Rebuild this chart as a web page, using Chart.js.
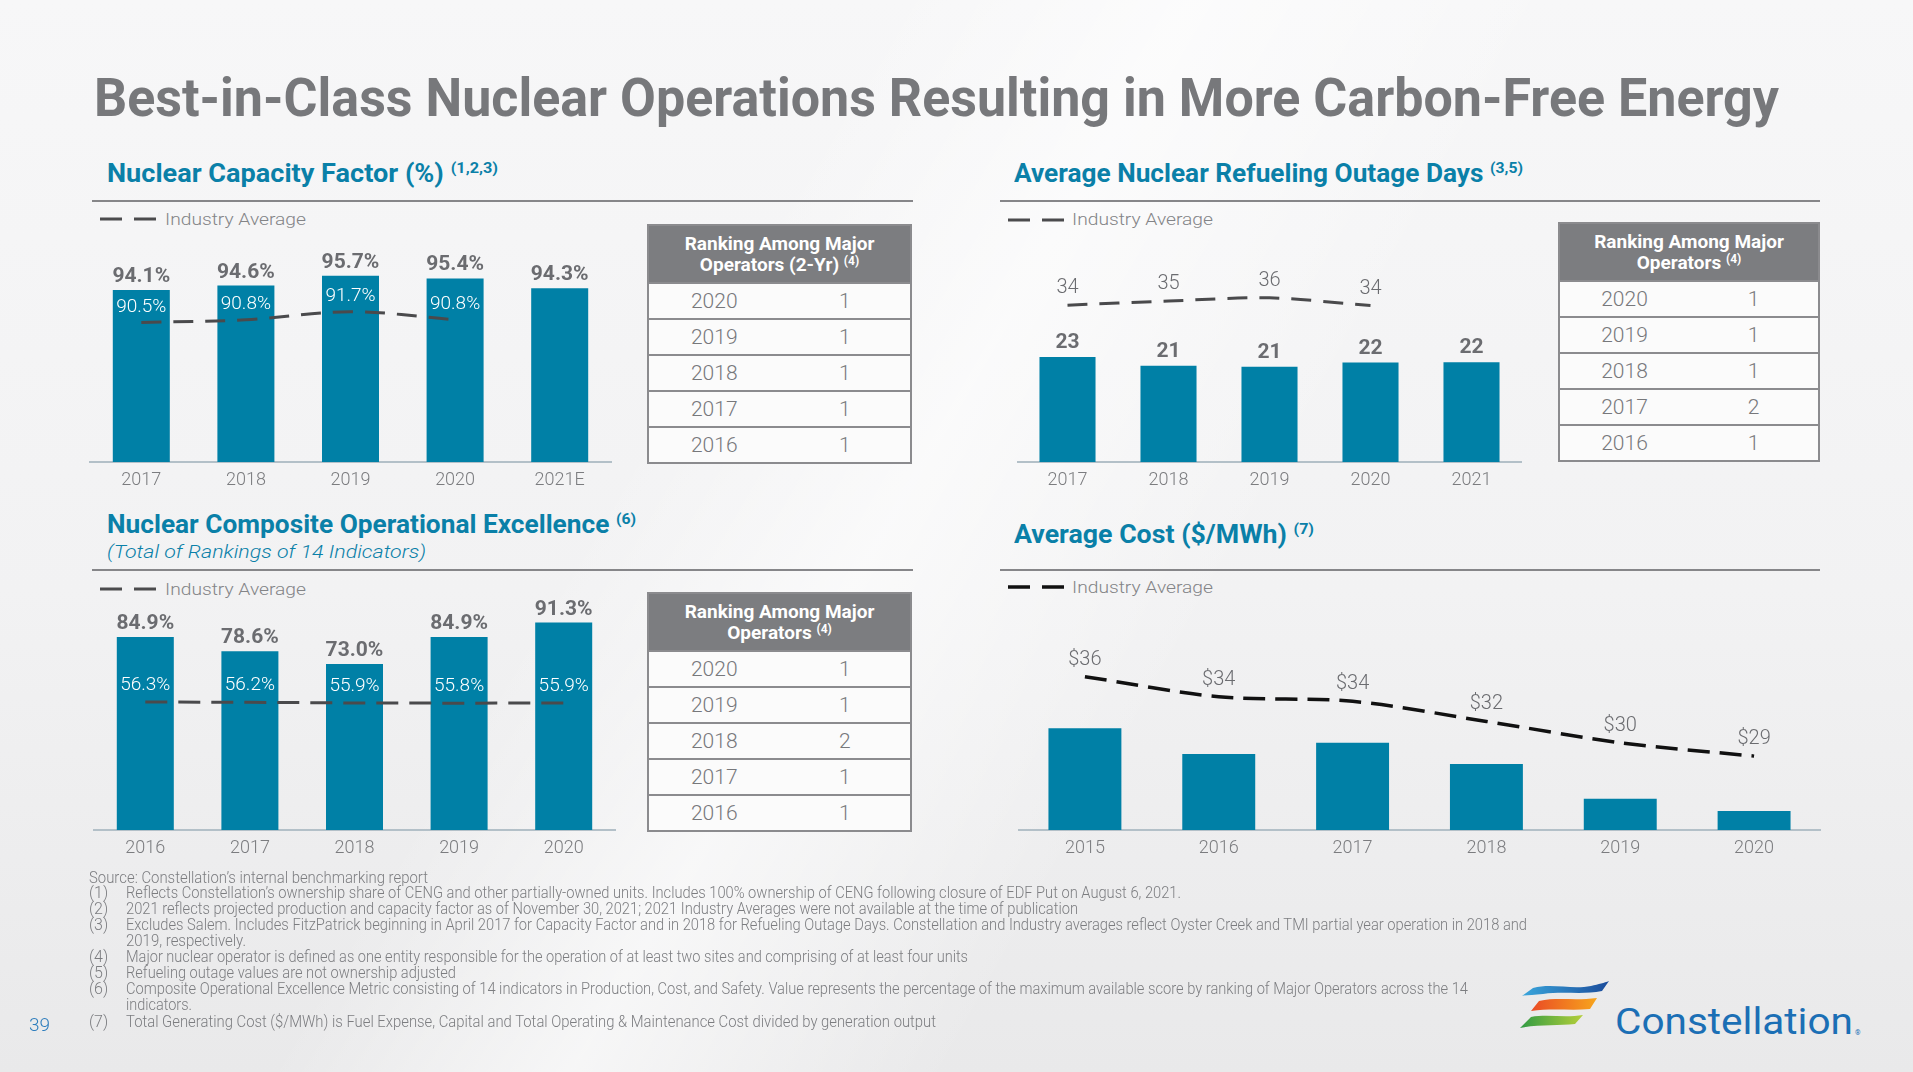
<!DOCTYPE html>
<html>
<head>
<meta charset="utf-8">
<title>Best-in-Class Nuclear Operations</title>
<script src="https://cdn.jsdelivr.net/npm/chart.js@4.4.1/dist/chart.umd.min.js"></script>
<style>
html, body { margin: 0; padding: 0; }
body {
    width: 1913px; height: 1072px; position: relative; overflow: hidden;
    font-family: Roboto, "Noto Sans", sans-serif;
    background:
        linear-gradient(120deg, rgba(255,255,255,0) 35%, rgba(255,255,255,0.6) 47%, rgba(255,255,255,0) 62%),
        linear-gradient(180deg, #f7f7f8 0%, #f2f2f3 55%, #e9e9ea 100%);
}
.t { position: absolute; white-space: nowrap; line-height: 1; transform-origin: 0 0; }
.title { left: 94px; top: 71px; font-size: 54px; font-weight: 700; color: #77787b; }
.sub { font-size: 25px; font-weight: 700; color: #0a80a8; }
.sub sup { font-size: 15px; vertical-align: 9px; line-height: 0; }
.subi { font-size: 19px; font-weight: 300; font-style: italic; color: #0a80a8; }
.rule { position: absolute; height: 2px; background: #868689; }
.lgt { font-size: 17px; font-weight: 300; color: #838487; }
svg.lg { position: absolute; }
canvas { position: absolute; }
.rk { position: absolute; box-sizing: border-box; border: 2px solid #8b8b8e; background: #fbfbfb; }
.rk .hd { height: 56px; background: #7c7d80; color: #fff; font-weight: 700; font-size: 19px; line-height: 21px;
          text-align: center; display: flex; flex-direction: column; justify-content: center; }
.rk .hd sup { font-size: 12px; vertical-align: 6px; line-height: 0; }
.rk .row { height: 34px; border-top: 2px solid #8b8b8e; display: flex; align-items: center;
           font-size: 21px; font-weight: 300; color: #77787b; }
.rk .row span { flex: 1; text-align: center; }
.fn { font-size: 16px; font-weight: 300; color: #7c7d80; }
.pg { left: 29px; top: 1015px; font-size: 19px; font-weight: 300; color: #2d7dbd; }
.logo { left: 1615px; top: 1004px; font-size: 36px; font-weight: 400; color: #1b6fb5; }
</style>
</head>
<body>

<div class="t title" data-w="1685">Best-in-Class Nuclear Operations Resulting in More Carbon-Free Energy</div>

<div class="t sub" style="left:107px;top:161px" data-w="391">Nuclear Capacity Factor (%) <sup>(1,2,3)</sup></div>
<div class="t sub" style="left:1014px;top:161px" data-w="509">Average Nuclear Refueling Outage Days <sup>(3,5)</sup></div>
<div class="t sub" style="left:107px;top:512px" data-w="529">Nuclear Composite Operational Excellence <sup>(6)</sup></div>
<div class="t subi" style="left:107px;top:542px" data-w="319">(Total of Rankings of 14 Indicators)</div>
<div class="t sub" style="left:1014px;top:522px" data-w="300">Average Cost ($/MWh) <sup>(7)</sup></div>

<div class="rule" style="left:92px;top:200px;width:821px"></div>
<div class="rule" style="left:1000px;top:200px;width:820px"></div>
<div class="rule" style="left:92px;top:569px;width:821px"></div>
<div class="rule" style="left:1000px;top:569px;width:820px"></div>

<svg class="lg" style="left:100px;top:214px" width="60" height="10"><line x1="0" y1="5" x2="56" y2="5" stroke="#4b4b4d" stroke-width="3" stroke-dasharray="22 12"/></svg>
<div class="t lgt" style="left:165px;top:211px" data-w="141">Industry Average</div>
<svg class="lg" style="left:1008px;top:215px" width="60" height="10"><line x1="0" y1="5" x2="56" y2="5" stroke="#4b4b4d" stroke-width="3" stroke-dasharray="22 12"/></svg>
<div class="t lgt" style="left:1072px;top:211px" data-w="141">Industry Average</div>
<svg class="lg" style="left:100px;top:584px" width="60" height="10"><line x1="0" y1="5" x2="56" y2="5" stroke="#4b4b4d" stroke-width="3" stroke-dasharray="22 12"/></svg>
<div class="t lgt" style="left:165px;top:581px" data-w="141">Industry Average</div>
<svg class="lg" style="left:1008px;top:582px" width="60" height="10"><line x1="0" y1="5" x2="56" y2="5" stroke="#111" stroke-width="3.5" stroke-dasharray="22 12"/></svg>
<div class="t lgt" style="left:1072px;top:579px" data-w="141">Industry Average</div>

<canvas id="cfChart" width="523" height="265" style="left:89px;top:237px"></canvas>
<canvas id="outChart" width="505" height="268" style="left:1017px;top:234px"></canvas>
<canvas id="coeChart" width="523" height="290" style="left:93px;top:580px"></canvas>
<canvas id="costChart" width="803" height="237" style="left:1018px;top:633px"></canvas>

<div id="notes"></div>
<div class="t pg">39</div>

<svg style="position:absolute;left:1517px;top:980px" width="96" height="52">
  <defs>
    <linearGradient id="gb" x1="0" x2="1" y1="0" y2="0"><stop offset="0" stop-color="#3aa6dc"/><stop offset="1" stop-color="#1b4c9b"/></linearGradient>
    <linearGradient id="go" x1="0" x2="1" y1="0" y2="0"><stop offset="0" stop-color="#ea4b25"/><stop offset="1" stop-color="#f7a51c"/></linearGradient>
    <linearGradient id="gg" x1="0" x2="1" y1="0" y2="0"><stop offset="0" stop-color="#2f9a43"/><stop offset="1" stop-color="#b5cf3a"/></linearGradient>
  </defs>
  <path d="M16 8 C35 3 55 10 74 6 C82 4 87 3 92 1 L85 11 C66 15 46 11 26 14 C16 15 9 15 5 16 Z" fill="url(#gb)"/>
  <path d="M22 21 C40 17 58 21 80 18 L73 29 C55 31 35 28 14 31 Z" fill="url(#go)"/>
  <path d="M14 37 C30 34 48 38 66 35 L58 44 C42 46 22 44 3 48 Z" fill="url(#gg)"/>
</svg>
<div class="t logo" data-w="238">Constellation</div>
<div class="t" style="left:1855px;top:1030px;font-size:7px;color:#1b6fb5">®</div>

<script>
// Nuclear Capacity Factor (%)
var cfYears = ['2017', '2018', '2019', '2020', '2021E'];
var cfConstellation = [94.1, 94.6, 95.7, 95.4, 94.3];
var cfIndustry = [90.5, 90.8, 91.7, 90.8, null];

// Average Nuclear Refueling Outage Days
var outYears = ['2017', '2018', '2019', '2020', '2021'];
var outConstellation = [23.0, 21.1, 20.9, 21.8, 21.9];
var outIndustry = [34.4, 35.3, 36.0, 34.3, null];

// Nuclear Composite Operational Excellence
var coeYears = ['2016', '2017', '2018', '2019', '2020'];
var coeConstellation = [84.9, 78.6, 73.0, 84.9, 91.3];
var coeIndustry = [56.3, 56.2, 55.9, 55.8, 55.9];

// Average Cost ($/MWh)
var costYears = ['2015', '2016', '2017', '2018', '2019', '2020'];
var costConstellation = [31.5, 29.2, 30.2, 28.3, 25.2, 24.1];
var costIndustry = [36.1, 34.3, 33.9, 32.1, 30.2, 29.0];

// Ranking tables
var rankYears = ['2020', '2019', '2018', '2017', '2016'];
var cfRanks = [1, 1, 1, 1, 1];
var outRanks = [1, 1, 1, 2, 1];
var coeRanks = [1, 1, 2, 1, 1];

var teal = '#0080a6';

function labelPlugin(cfg) {
    return {
        id: 'valueLabels',
        afterDatasetsDraw: function(chart) {
            var ctx = chart.ctx;
            chart.data.datasets.forEach(function(ds, i) {
                var c = cfg[ds.type];
                if (!c) return;
                chart.getDatasetMeta(i).data.forEach(function(el, j) {
                    var v = ds.data[j];
                    if (v === null || v === undefined) return;
                    ctx.save();
                    ctx.font = c.font;
                    ctx.fillStyle = c.color;
                    ctx.textAlign = 'center';
                    ctx.fillText((c.prefix || '') + v.toFixed(c.dec) + (c.suffix || ''), el.x, el.y - c.offset);
                    ctx.restore();
                });
            });
        }
    };
}

// wavy "broken axis" marks on the cost bars
var breakPlugin = {
    id: 'breakMarks',
    afterDatasetsDraw: function(chart) {
        var ctx = chart.ctx;
        var meta = chart.getDatasetMeta(1);
        meta.data.forEach(function(el) {
            var bx0 = el.x - el.width / 2, bx1 = el.x + el.width / 2;
            var yt = el.base - 16, yb = el.base - 6;
            function wy(x, y) { return y + 2.5 * Math.sin((x - bx0) / 16 * 2 * Math.PI); }
            ctx.save();
            ctx.beginPath();
            for (var x = bx0; x <= bx1; x++) ctx.lineTo(x, wy(x, yt));
            for (var x2 = bx1; x2 >= bx0; x2--) ctx.lineTo(x2, wy(x2, yb));
            ctx.closePath();
            ctx.fillStyle = '#acd7e4';
            ctx.fill();
            ctx.strokeStyle = '#7f8c92';
            ctx.lineWidth = 1.5;
            [yt, yb].forEach(function(y) {
                ctx.beginPath();
                for (var x = bx0 - 9; x <= bx1 + 9; x++) ctx.lineTo(x, wy(x, y));
                ctx.stroke();
            });
            ctx.restore();
        });
    }
};

function makeChart(id, labels, bars, line, o) {
    var plugins = [labelPlugin(o.labels)];
    if (o.breaks) plugins.push(breakPlugin);
    return new Chart(document.getElementById(id), {
        type: 'bar',
        data: {
            labels: labels,
            datasets: [{
                type: 'line',
                data: line,
                borderColor: o.lineColor,
                borderWidth: o.lineWidth,
                borderDash: o.dash,
                pointRadius: 0,
                tension: o.tension,
                fill: false,
                order: 0
            }, {
                type: 'bar',
                data: bars,
                backgroundColor: teal,
                barPercentage: o.barPct,
                categoryPercentage: 1,
                order: 1
            }]
        },
        options: {
            responsive: false,
            animation: false,
            layout: { padding: 0 },
            plugins: {
                legend: { display: false },
                tooltip: { enabled: false }
            },
            scales: {
                x: {
                    grid: { display: false },
                    border: { display: true, color: '#b3c0c8', width: 2 },
                    ticks: { color: '#7b7c7f', font: { family: 'Roboto', size: 18, weight: 300 }, padding: 0 },
                    afterFit: function(s) { s.height = 40; }
                },
                y: { display: false, min: o.min, max: o.max }
            }
        },
        plugins: plugins
    });
}

makeChart('cfChart', cfYears, cfConstellation, cfIndustry, {
    min: 75, max: 100, barPct: 0.545, tension: 0.35,
    lineColor: '#4a4a4c', lineWidth: 3, dash: [20, 12],
    labels: {
        bar: { font: 'bold 21px Roboto', color: '#6b6c70', offset: 8, dec: 1, suffix: '%' },
        line: { font: '300 19px Roboto', color: '#ffffff', offset: 11, dec: 1, suffix: '%' }
    }
});

makeChart('outChart', outYears, outConstellation, outIndustry, {
    min: 0, max: 50, barPct: 0.555, tension: 0.3,
    lineColor: '#4a4a4c', lineWidth: 3, dash: [20, 12],
    labels: {
        bar: { font: 'bold 21px Roboto', color: '#6b6c70', offset: 9, dec: 0 },
        line: { font: '300 20px Roboto', color: '#6b6c70', offset: 12, dec: 0 }
    }
});

makeChart('coeChart', coeYears, coeConstellation, coeIndustry, {
    min: 0, max: 110, barPct: 0.545, tension: 0,
    lineColor: '#4a4a4c', lineWidth: 3, dash: [22, 11],
    labels: {
        bar: { font: 'bold 21px Roboto', color: '#6b6c70', offset: 8, dec: 1, suffix: '%' },
        line: { font: '300 19px Roboto', color: '#ffffff', offset: 12, dec: 1, suffix: '%' }
    }
});

makeChart('costChart', costYears, costConstellation, costIndustry, {
    min: 22.4, max: 40, barPct: 0.545, tension: 0.3, breaks: true,
    lineColor: '#111111', lineWidth: 3.5, dash: [22, 10],
    labels: {
        line: { font: '300 20px Roboto', color: '#6b6c70', offset: 12, dec: 0, prefix: '$' }
    }
});

// ranking tables
function makeTable(left, top, width, head, ranks) {
    var box = document.createElement('div');
    box.className = 'rk';
    box.style.left = left + 'px';
    box.style.top = top + 'px';
    box.style.width = width + 'px';
    var html = '<div class="hd">' + head + '</div>';
    rankYears.forEach(function(y, i) {
        html += '<div class="row"><span>' + y + '</span><span>' + ranks[i] + '</span></div>';
    });
    box.innerHTML = html;
    document.body.appendChild(box);
}
makeTable(647, 224, 265, '<div>Ranking Among Major</div><div>Operators (2-Yr) <sup>(4)</sup></div>', cfRanks);
makeTable(1558, 222, 262, '<div>Ranking Among Major</div><div>Operators <sup>(4)</sup></div>', outRanks);
makeTable(647, 592, 265, '<div>Ranking Among Major</div><div>Operators <sup>(4)</sup></div>', coeRanks);

// footnotes
var notes = [
    [883, '', 'Source: Constellation\u2019s internal benchmarking report', 339],
    [898, '(1)', 'Reflects Constellation\u2019s ownership share of CENG and other partially-owned units. Includes 100% ownership of CENG following closure of EDF Put on August 6, 2021.', 1055],
    [914, '(2)', '2021 reflects projected production and capacity factor as of November 30, 2021; 2021 Industry Averages were not available at the time of publication', 952],
    [930, '(3)', 'Excludes Salem. Includes FitzPatrick beginning in April 2017 for Capacity Factor and in 2018 for Refueling Outage Days. Constellation and Industry averages reflect Oyster Creek and TMI partial year operation in 2018 and', 1401],
    [946, '', '2019, respectively.', 120],
    [962, '(4)', 'Major nuclear operator is defined as one entity responsible for the operation of at least two sites and comprising of at least four units', 842],
    [978, '(5)', 'Refueling outage values are not ownership adjusted', 330],
    [994, '(6)', 'Composite Operational Excellence Metric consisting of 14 indicators in Production, Cost, and Safety. Value represents the percentage of the maximum available score by ranking of Major Operators across the 14', 1342],
    [1010, '', 'indicators.', 66],
    [1027, '(7)', 'Total Generating Cost ($/MWh) is Fuel Expense, Capital and Total Operating & Maintenance Cost divided by generation output', 810]
];
var notesBox = document.getElementById('notes');
notes.forEach(function(n, i) {
    var top = n[0] - 13.5;
    if (n[1]) {
        var num = document.createElement('div');
        num.className = 't fn';
        num.style.left = '89px';
        num.style.top = top + 'px';
        num.textContent = n[1];
        notesBox.appendChild(num);
    }
    var txt = document.createElement('div');
    txt.className = 't fn';
    txt.style.left = (i === 0 ? 89 : 125.6) + 'px';
    txt.style.top = top + 'px';
    txt.setAttribute('data-w', n[3]);
    txt.textContent = n[2];
    notesBox.appendChild(txt);
});

// squeeze text blocks to the widths of the slide
document.querySelectorAll('[data-w]').forEach(function(el) {
    var w = el.getBoundingClientRect().width;
    el.style.transform = 'scaleX(' + (parseFloat(el.getAttribute('data-w')) / w) + ')';
});
</script>
</body>
</html>
